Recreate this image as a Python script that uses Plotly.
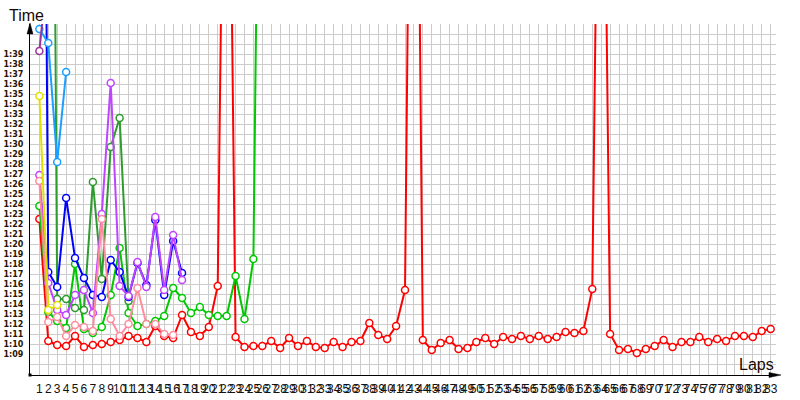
import plotly.graph_objects as go

# ---------------- data (lap times in seconds) ----------------
LAPS_ALL = list(range(1, 84))

RED = [82.5, 70.3, 69.9, 69.8, 70.8, 69.7, 69.9, 70.0, 70.2, 70.4,
       70.8, 70.6, 70.2, 71.8, 70.8, 70.6, 72.9, 71.2, 70.8, 71.7,
       75.8, 150.0, 70.7, 69.7, 69.8, 69.8, 70.3, 69.6, 70.6, 69.8,
       70.3, 69.7, 69.6, 70.2, 69.7, 70.2, 70.3, 72.1, 70.9, 70.5,
       71.8, 75.4, 165.0, 70.4, 69.4, 70.1, 70.4, 69.5, 69.6, 70.2,
       70.6, 70.0, 70.7, 70.5, 70.8, 70.5, 70.8, 70.5, 70.7, 71.2,
       71.1, 71.3, 75.5, 150.0, 71.0, 69.4, 69.5, 69.1, 69.5, 69.8,
       70.4, 69.7, 70.2, 70.2, 70.7, 70.2, 70.5, 70.3, 70.8, 70.8,
       70.7, 71.3, 71.5]

GREEN = [83.8, 73.2, 72.3, 71.6, 78.0, 71.5, 71.1, 71.7, 74.9, 79.6,
         73.1, 71.8, 72.0, 72.3, 72.8, 75.6, 74.6, 73.1, 73.7, 72.9,
         72.8, 72.8, 76.8, 72.5, 78.5, 157.0]

DARK_GREEN_LAPS = [2, 3, 4, 5, 6, 7, 8, 9, 10, 11]
DARK_GREEN = [206.0, 74.5, 74.5, 73.6, 73.4, 86.2, 76.5, 89.7, 92.6, 74.3]

BLUE = [205.0, 77.2, 75.7, 84.6, 78.6, 76.6, 74.9, 74.7, 78.4, 77.2,
        74.7, 78.1, 75.9, 82.4, 74.9, 80.3, 77.1]

VIOLET = [86.9, 76.1, 73.4, 72.9, 74.9, 75.4, 73.1, 83.0, 96.1, 75.8,
          74.8, 78.2, 75.7, 82.7, 75.4, 80.9, 76.4]

PINK = [86.3, 72.2, 72.7, 70.8, 71.9, 71.7, 71.3, 82.5, 72.5, 70.8,
        72.0, 75.6, 72.0, 72.0, 71.0, 70.9]

YELLOW = [94.8, 73.4, 73.9]
SKY = [101.5, 100.1, 88.2, 97.2]
MAROON = [99.3, 108.0]

Y_TICK_LABELS = ["1:09", "1:10", "1:11", "1:12", "1:13", "1:14", "1:15", "1:16",
                 "1:17", "1:18", "1:19", "1:20", "1:21", "1:22", "1:23", "1:24",
                 "1:25", "1:26", "1:27", "1:28", "1:29", "1:30", "1:31", "1:32",
                 "1:33", "1:34", "1:35", "1:36", "1:37", "1:38", "1:39"]
X_TICK_LABELS = [str(n) for n in LAPS_ALL]


def to_sec(lbl):
    m, s = lbl.split(":")
    return int(m) * 60 + int(s)


label_map = {to_sec(l): l for l in Y_TICK_LABELS}
grid_vals = list(range(67, 103))
grid_text = [label_map.get(v, "") for v in grid_vals]

series = [
    ("red", LAPS_ALL[:len(RED)], RED, "#ff0000"),
    ("green", LAPS_ALL[:len(GREEN)], GREEN, "#00c800"),
    ("darkgreen", DARK_GREEN_LAPS, DARK_GREEN, "#2e9b2e"),
    ("blue", LAPS_ALL[:len(BLUE)], BLUE, "#0000ff"),
    ("violet", LAPS_ALL[:len(VIOLET)], VIOLET, "#c044ff"),
    ("pink", LAPS_ALL[:len(PINK)], PINK, "#ff8c9e"),
    ("yellow", LAPS_ALL[:len(YELLOW)], YELLOW, "#e0e000"),
    ("sky", LAPS_ALL[:len(SKY)], SKY, "#1a9fff"),
    ("maroon", LAPS_ALL[:len(MAROON)], MAROON, "#993399"),
]

fig = go.Figure()
for name, xs, ys, col in series:
    fig.add_trace(go.Scatter(
        x=xs, y=ys, mode="lines+markers", name=name,
        line=dict(color=col, width=2),
        marker=dict(symbol="circle", size=7, color="white",
                    line=dict(color=col, width=1.5)),
        showlegend=False,
    ))

# plot area in pixels: left 30, right 776, top 24, bottom 375
L, R, T, B = 30, 776, 24, 375
W, H = R - L, B - T


def px(x):
    return (x - L) / W


def py(y):
    return (B - y) / H


fig.update_layout(
    width=800, height=400,
    margin=dict(l=L, r=800 - R, t=T, b=400 - B, autoexpand=False),
    paper_bgcolor="white", plot_bgcolor="white",
    xaxis=dict(
        range=[-0.05, 83.6], tickmode="array", tickvals=LAPS_ALL,
        ticktext=X_TICK_LABELS, tickangle=0, automargin=False,
        showgrid=True, gridcolor="#cccccc", gridwidth=1,
        showline=True, linecolor="black", linewidth=1,
        zeroline=False, ticks="", ticklabelstandoff=3,
        tickfont=dict(family="Liberation Sans", size=12, color="#111111"),
    ),
    yaxis=dict(
        range=[66.9, 102.0], tickmode="array", tickvals=grid_vals,
        ticktext=grid_text, automargin=False,
        showgrid=True, gridcolor="#cccccc", gridwidth=1,
        showline=True, linecolor="black", linewidth=1,
        zeroline=False, ticks="", ticklabelstandoff=4,
        tickfont=dict(family="DejaVu Sans", size=8, color="#2a1400", weight="bold"),
    ),
    shapes=[
        # y-axis arrow head
        dict(type="path", xref="paper", yref="paper", layer="above",
             path=f"M {px(30)} {py(23)} L {px(27)} {py(34)} L {px(33)} {py(34)} Z",
             fillcolor="black", line=dict(color="black", width=0.5)),
        # x-axis line extension + arrow head
        dict(type="line", xref="paper", yref="paper", layer="above",
             x0=px(776), y0=py(375), x1=px(772), y1=py(375),
             line=dict(color="black", width=1)),
        dict(type="path", xref="paper", yref="paper", layer="above",
             path=f"M {px(781)} {py(375)} L {px(769)} {py(372.5)} L {px(769)} {py(377.5)} Z",
             fillcolor="black", line=dict(color="black", width=0.5)),
        # origin square
        dict(type="rect", xref="paper", yref="paper", layer="above",
             x0=px(28.5), y0=py(376.5), x1=px(31.5), y1=py(373.5),
             fillcolor="black", line=dict(color="black", width=0)),
    ],
    annotations=[
        dict(text="Time", xref="paper", yref="paper", x=px(7), y=py(15),
             xanchor="left", yanchor="middle", showarrow=False,
             font=dict(family="Liberation Sans", size=16, color="#1a0800")),
        dict(text="Laps", xref="paper", yref="paper", x=px(776), y=py(364),
             xanchor="right", yanchor="middle", showarrow=False,
             font=dict(family="Liberation Sans", size=16, color="#1a0800")),
    ],
)

fig.write_html("out.html", config={"displayModeBar": False},
               post_script="document.body.style.margin='0px';")
